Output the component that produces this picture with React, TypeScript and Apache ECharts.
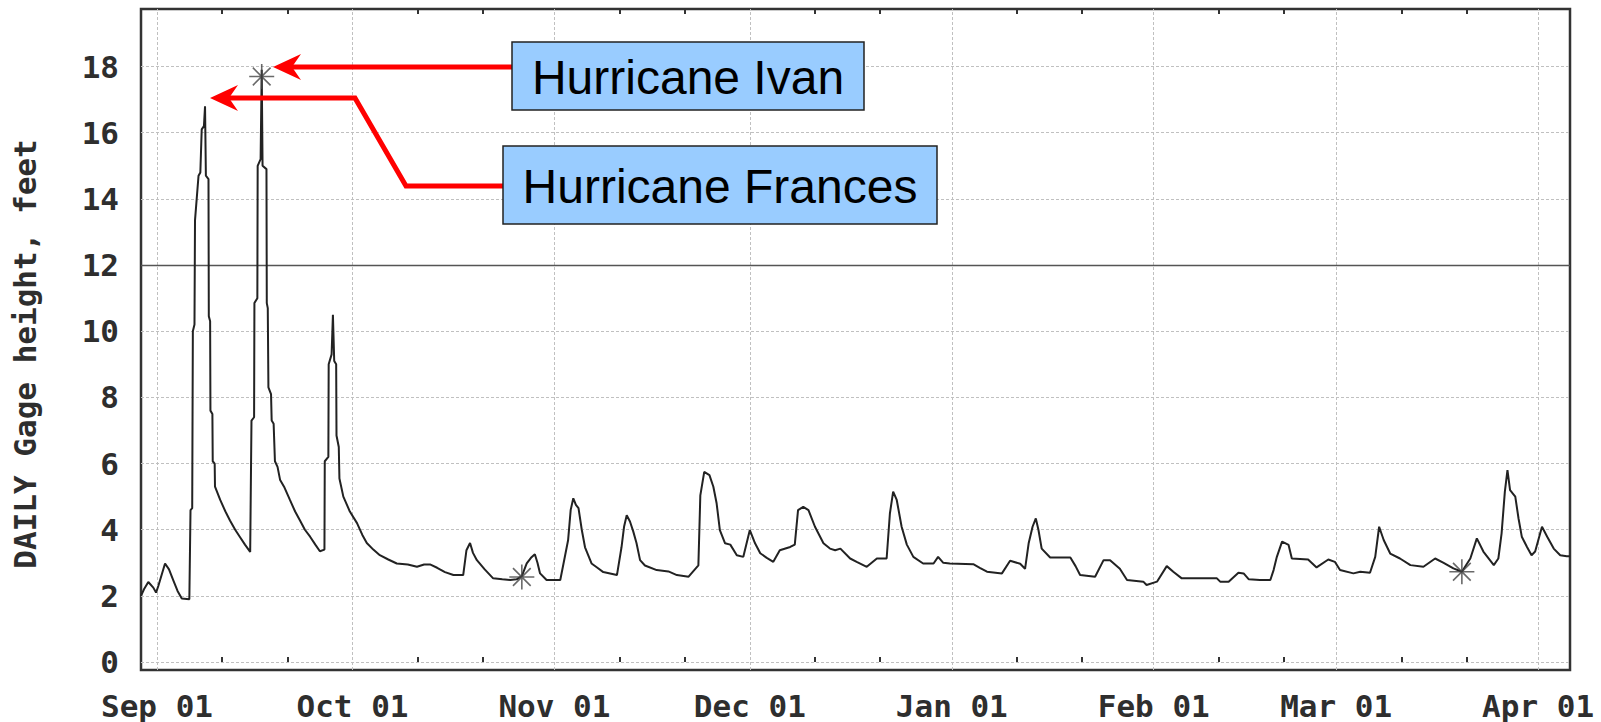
import React, { useEffect, useRef } from 'react';
import * as echarts from 'echarts';

// Day offsets from Sep 01 2004 and daily gage height (feet)
const days: number[] = [
  -2.46, -2.0, -1.34, -0.57, -0.15, 0.2, 1.23, 1.84, 2.5, 3.15, 3.8, 4.96,
  5.14, 5.4, 5.5, 5.75, 5.83, 6.37, 6.65, 6.86, 7.2, 7.37, 7.5, 7.9, 7.95, 8.15, 8.2, 8.5, 8.55, 8.85, 8.9,
  9.7, 10.5, 11.2, 12.0, 12.7, 13.5, 14.3,
  14.5, 14.9, 14.95, 15.4, 15.45, 15.9, 16.07, 16.2, 16.8, 16.85, 17.0, 17.1, 17.5, 17.6, 17.9, 18.1, 18.5, 18.9,
  19.5, 20.4, 21.2, 21.95, 22.7, 23.5, 24.3, 25.0,
  25.7, 25.75, 26.3, 26.35, 26.8, 27.0, 27.2, 27.5, 27.55, 27.9, 28.0, 28.6, 29.6, 30.7, 31.5, 32.2, 33.2, 34.2,
  35.5, 36.8, 38.5, 39.9, 41.0, 41.9, 43.0, 44.2, 45.5, 47.0, 47.5, 48.05, 48.5, 49.1, 50.3, 51.6, 53.0, 54.2,
  55.2, 56.0, 56.75, 57.4, 58.0, 58.4, 58.8, 59.8, 61.9, 62.4, 63.1, 63.5, 63.9, 64.3, 64.7, 65.2, 65.7, 66.7,
  67.6, 68.5, 70.6, 71.3, 71.7, 72.1, 72.6, 73.1, 73.6, 74.15, 74.9, 76.7, 78.5, 79.8, 81.6, 82.3, 83.1, 83.4,
  84.0, 84.8, 85.4, 85.9, 86.4, 87.2, 88.0, 89.0, 90.0, 91.0, 91.8, 92.6, 93.6, 94.6, 95.6, 97.2, 97.9, 98.4,
  99.2, 100.0, 101.0, 102.3, 103.3, 104.1, 104.9, 106.4, 107.4, 108.95, 110.5, 112.0, 112.5, 113.0, 113.55,
  114.3, 115.1, 116.1, 117.6, 119.2, 119.9, 120.7, 121.7, 125.3, 126.3, 127.4, 129.7, 130.95, 132.5, 133.25,
  133.8, 134.4, 134.9, 135.3, 135.8, 137.1, 140.2, 141.0, 141.7, 144.0, 145.3, 146.3, 147.8, 148.9, 151.4,
  151.9, 153.5, 155.0, 156.0, 157.3, 162.7, 163.2, 164.5, 166.0, 166.8, 167.6, 169.3, 170.9, 171.4, 171.9,
  172.7, 173.7, 174.2, 176.7, 178.0, 179.8, 180.8, 181.6, 183.65, 184.7, 186.2, 187.0, 187.6, 188.3, 189.3,
  190.8, 192.4, 194.4, 196.2, 197.5, 199.0, 200.3, 201.6, 202.6, 203.6, 205.2, 205.9, 206.4, 206.9, 207.3,
  207.7, 208.5, 209.0, 209.5, 210.3, 211.0, 211.55, 212.6, 213.4, 214.4, 215.4, 216.4, 216.9,
];
const gage: number[] = [
  2.0, 2.2, 2.42, 2.25, 2.1, 2.3, 2.98, 2.8, 2.47, 2.15, 1.92, 1.9,
  4.59, 4.65, 10.0, 10.2, 13.35, 14.7, 14.8, 16.1, 16.2, 16.8, 14.7, 14.6, 10.45, 10.3, 7.6, 7.5, 6.07, 6.0, 5.3,
  4.9, 4.55, 4.28, 4.0, 3.79, 3.55, 3.33,
  7.3, 7.4, 10.85, 11.0, 15.0, 15.2, 17.9, 15.0, 14.9, 10.85, 10.7, 8.3, 8.1, 7.3, 7.2, 6.07, 5.9, 5.5,
  5.3, 4.9, 4.55, 4.28, 4.0, 3.79, 3.55, 3.35,
  3.4, 6.07, 6.2, 9.0, 9.3, 10.5, 9.1, 9.0, 6.85, 6.5, 5.55, 5.0, 4.55, 4.2, 3.85, 3.6, 3.4, 3.23,
  3.1, 2.98, 2.95, 2.88, 2.95, 2.95, 2.85, 2.72, 2.63, 2.63, 3.38, 3.6, 3.3, 3.08, 2.8, 2.53, 2.5, 2.48,
  2.5, 2.6, 2.98, 3.15, 3.26, 3.0, 2.68, 2.48, 2.48, 2.98, 3.68, 4.6, 4.95, 4.75, 4.65, 4.0, 3.47, 2.98,
  2.85, 2.72, 2.63, 3.47, 4.1, 4.44, 4.25, 3.95, 3.6, 3.08, 2.92, 2.78, 2.74, 2.63, 2.58, 2.74, 2.92, 5.04,
  5.75, 5.65, 5.3, 4.8, 3.99, 3.59, 3.55, 3.23, 3.18, 3.99, 3.59, 3.29, 3.15, 3.03, 3.38, 3.48, 3.55, 4.59,
  4.69, 4.59, 4.09, 3.59, 3.43, 3.38, 3.43, 3.13, 3.03, 2.88, 3.13, 3.13, 4.49, 5.15, 4.9,
  4.09, 3.55, 3.18, 2.98, 2.98, 3.18, 3.0, 2.98, 2.96, 2.85, 2.73, 2.68, 3.06, 2.97, 2.82,
  3.59, 4.09, 4.34, 4.0, 3.43, 3.16, 3.16, 2.9, 2.63, 2.58, 3.08, 3.08, 2.82, 2.48, 2.43,
  2.33, 2.43, 2.9, 2.73, 2.53, 2.53, 2.43, 2.43, 2.7, 2.68, 2.5, 2.48, 2.48, 2.78, 3.18,
  3.64, 3.54, 3.13, 3.1, 2.86, 3.1, 3.03, 2.78, 2.68, 2.73, 2.7, 3.18, 4.09, 3.69, 3.28,
  3.13, 2.93, 2.88, 3.13, 3.0, 2.83, 2.73, 3.13, 3.74, 3.34, 2.93, 3.13, 3.89, 5.15, 5.8,
  5.2, 5.0, 4.34, 3.79, 3.48, 3.23, 3.34, 4.09, 3.79, 3.43, 3.23, 3.2, 3.2,
];

const markerDays: number[] = [16.07, 56.0, 200.3];
const markerValues: number[] = [17.7, 2.57, 2.73];

const monthStartDays: number[] = [0, 30, 61, 91, 122, 153, 181, 212];
const monthLabels: string[] = ['Sep 01', 'Oct 01', 'Nov 01', 'Dec 01', 'Jan 01', 'Feb 01', 'Mar 01', 'Apr 01'];
const minorTickDays: number[] = [10, 20, 40, 50, 71, 81, 101, 111, 132, 142, 163, 173, 191, 201];
const yTickValues: number[] = [0, 2, 4, 6, 8, 10, 12, 14, 16, 18];
const floodLine = 12;
const yTitle = 'DAILY Gage height, feet';
const ivanLabel = 'Hurricane Ivan';
const francesLabel = 'Hurricane Frances';

const MONO = '"DejaVu Sans Mono", monospace';
const ASTERISK = 'path://M12,0L12,24M0,12L24,12M3.5,3.5L20.5,20.5M3.5,20.5L20.5,3.5';

function arrowHead(tx: number, ty: number) {
  return {
    type: 'polygon',
    z: 101,
    shape: { points: [[tx, ty], [tx + 28, ty - 13], [tx + 19, ty], [tx + 28, ty + 13]] },
    style: { fill: '#ff0000' },
  };
}

export default function App() {
  const ref = useRef<HTMLDivElement>(null);

  useEffect(() => {
    if (!ref.current) return;
    const chart = echarts.init(ref.current, undefined, { renderer: 'svg' });
    const lineData = days.map((d, i) => [d, gage[i]]);
    const markerData = markerDays.map((d, i) => [d, markerValues[i]]);
    const xMin = -2.46;
    const xMax = 216.9;

    const gridMarks: any[] = monthStartDays.map((d) => ({
      xAxis: d,
      lineStyle: { color: '#c0c0c0', width: 1, type: [3, 2] },
    }));
    gridMarks.push({ yAxis: floodLine, lineStyle: { color: '#555555', width: 1.4, type: 'solid' } });

    chart.setOption({
      animation: false,
      backgroundColor: '#ffffff',
      grid: {
        left: 141,
        right: 31,
        top: 9,
        bottom: 52,
        show: true,
        borderColor: '#333333',
        borderWidth: 2.5,
        backgroundColor: 'transparent',
      },
      xAxis: [
        {
          type: 'value',
          min: xMin,
          max: xMax,
          position: 'bottom',
          axisLine: { show: false },
          axisTick: {
            show: true,
            inside: true,
            length: 5,
            customValues: minorTickDays,
            lineStyle: { color: '#333333', width: 2 },
          },
          splitLine: { show: false },
          axisLabel: {
            show: true,
            customValues: monthStartDays,
            margin: 20,
            formatter: (v: number) => {
              const i = monthStartDays.indexOf(Math.round(v));
              return i >= 0 ? monthLabels[i] : '';
            },
            fontFamily: MONO,
            fontWeight: 'bold',
            fontSize: 31,
            color: '#2e2e2e',
          },
        },
        {
          type: 'value',
          min: xMin,
          max: xMax,
          position: 'top',
          axisLine: { show: false },
          axisTick: {
            show: true,
            inside: true,
            length: 5,
            customValues: minorTickDays,
            lineStyle: { color: '#333333', width: 2 },
          },
          splitLine: { show: false },
          axisLabel: { show: false },
        },
      ],
      yAxis: {
        type: 'value',
        min: -0.24,
        max: 19.74,
        axisLine: { show: false },
        axisTick: { show: true, length: 0, customValues: yTickValues },
        splitLine: { show: true, lineStyle: { color: '#c0c0c0', width: 1, type: [3, 2] } },
        axisLabel: {
          customValues: yTickValues,
          margin: 22,
          fontFamily: MONO,
          fontWeight: 'bold',
          fontSize: 31,
          color: '#2e2e2e',
        },
      },
      series: [
        {
          type: 'line',
          data: lineData,
          xAxisIndex: 0,
          symbol: 'none',
          lineStyle: { color: '#222222', width: 2 },
          z: 3,
          markLine: {
            silent: true,
            symbol: 'none',
            label: { show: false },
            data: gridMarks,
            z: 1,
          },
        },
        {
          type: 'scatter',
          data: markerData,
          xAxisIndex: 0,
          symbol: ASTERISK,
          symbolSize: 25,
          itemStyle: { color: 'transparent', borderColor: '#444', borderWidth: 1.6 },
          z: 4,
        },
      ],
      graphic: [
        {
          type: 'text',
          z: 100,
          x: 25,
          y: 354,
          rotation: Math.PI / 2,
          style: {
            text: yTitle,
            font: 'bold 31px "DejaVu Sans Mono", monospace',
            fill: '#2e2e2e',
            align: 'center',
            verticalAlign: 'middle',
          },
        },
        // Ivan arrow
        {
          type: 'polyline',
          z: 100,
          shape: { points: [[512, 67], [290, 67]] },
          style: { stroke: '#ff0000', lineWidth: 5, fill: 'none' },
        },
        arrowHead(273, 67),
        // Frances arrow
        {
          type: 'polyline',
          z: 100,
          shape: { points: [[503, 186], [406, 186], [355, 98], [226, 98]] },
          style: { stroke: '#ff0000', lineWidth: 5, fill: 'none', lineJoin: 'miter' },
        },
        arrowHead(210, 98),
        {
          type: 'rect',
          z: 102,
          shape: { x: 512, y: 42, width: 352, height: 68 },
          style: { fill: '#99ccff', stroke: '#222', lineWidth: 1.5 },
        },
        {
          type: 'text',
          z: 103,
          x: 688,
          y: 77,
          style: {
            text: ivanLabel,
            font: '48px "Liberation Sans", Arial, sans-serif',
            fill: '#000',
            align: 'center',
            verticalAlign: 'middle',
          },
        },
        {
          type: 'rect',
          z: 102,
          shape: { x: 503, y: 146, width: 434, height: 78 },
          style: { fill: '#99ccff', stroke: '#222', lineWidth: 1.5 },
        },
        {
          type: 'text',
          z: 103,
          x: 720,
          y: 186,
          style: {
            text: francesLabel,
            font: '48px "Liberation Sans", Arial, sans-serif',
            fill: '#000',
            align: 'center',
            verticalAlign: 'middle',
          },
        },
      ],
    });
    return () => chart.dispose();
  }, []);

  return (
    <div
      ref={ref}
      style={{ position: 'fixed', left: 0, top: 0, width: 1601, height: 722, background: '#fff' }}
    />
  );
}
